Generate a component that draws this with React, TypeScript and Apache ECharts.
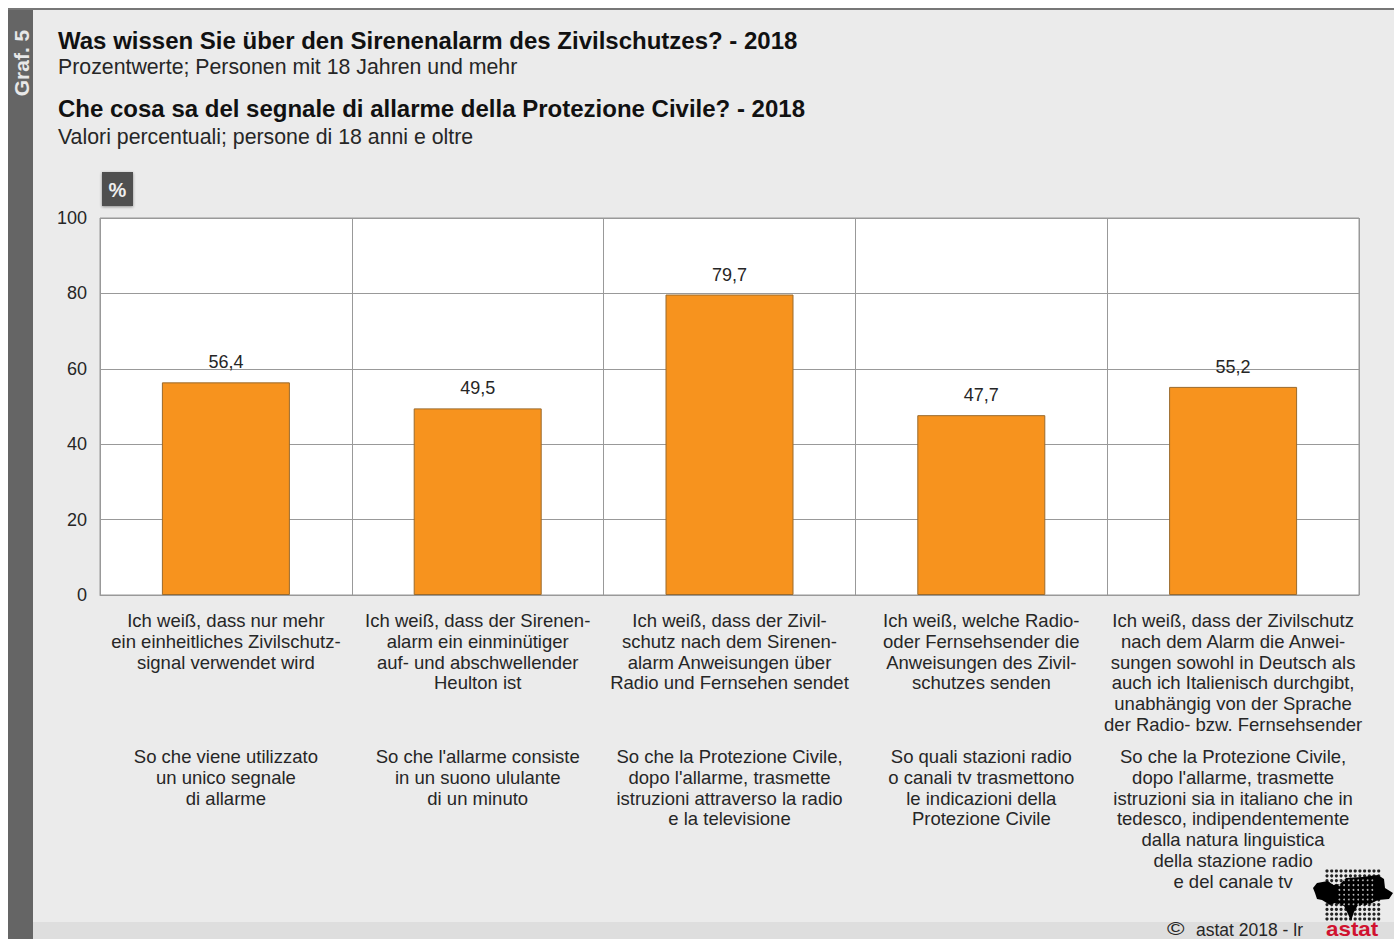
import React, { useEffect, useRef } from "react";
import * as echarts from "echarts";

const values = [56.4, 49.5, 79.7, 47.7, 55.2];
const germanLabels = [
  "Ich weiß, dass nur mehr\nein einheitliches Zivilschutz-\nsignal verwendet wird",
  "Ich weiß, dass der Sirenen-\nalarm ein einminütiger\nauf- und abschwellender\nHeulton ist",
  "Ich weiß, dass der Zivil-\nschutz nach dem Sirenen-\nalarm Anweisungen über\nRadio und Fernsehen sendet",
  "Ich weiß, welche Radio-\noder Fernsehsender die\nAnweisungen des Zivil-\nschutzes senden",
  "Ich weiß, dass der Zivilschutz\nnach dem Alarm die Anwei-\nsungen sowohl in Deutsch als\nauch ich Italienisch durchgibt,\nunabhängig von der Sprache\nder Radio- bzw. Fernsehsender",
];
const italianLabels = [
  "So che viene utilizzato\nun unico segnale\ndi allarme",
  "So che l'allarme consiste\nin un suono ululante\ndi un minuto",
  "So che la Protezione Civile,\ndopo l'allarme, trasmette\nistruzioni attraverso la radio\ne la televisione",
  "So quali stazioni radio\no canali tv trasmettono\nle indicazioni della\nProtezione Civile",
  "So che la Protezione Civile,\ndopo l'allarme, trasmette\nistruzioni sia in italiano che in\ntedesco, indipendentemente\ndalla natura linguistica\ndella stazione radio\ne del canale tv",
];
const yTicks = { min: 0, max: 100, interval: 20 };
const FONT = '"Liberation Sans", Arial, sans-serif';
const TXT = "#262626";

const blobPoints = [
  [1313, 888], [1317, 883], [1328, 881], [1333, 885], [1340, 884], [1346, 878], [1362, 877], [1378, 875],
  [1384, 879], [1385, 888], [1393, 893], [1389, 899], [1378, 900], [1368, 905], [1358, 905], [1354, 912],
  [1351, 921], [1348, 914], [1344, 906], [1335, 903], [1330, 905], [1322, 900], [1317, 899], [1315, 893],
];

function logoGraphics() {
  const out: any[] = [];
  for (let r = 0; r < 11; r++) {
    for (let c = 0; c < 12; c++) {
      out.push({
        type: "circle",
        z: 5,
        shape: { cx: 1327 + c * 4.7, cy: 871 + r * 4.8, r: 1.6 },
        style: { fill: "#222" },
        silent: true,
      });
    }
  }
  // light mesh through the centre of the black silhouette
  for (let r = 0; r < 6; r++) {
    for (let c = 0; c < 8; c++) {
      out.push({
        type: "circle",
        z: 7,
        shape: { cx: 1339.4 + c * 4.7, cy: 880.3 + r * 4.8, r: 0.9 },
        style: { fill: "#b5b5b5" },
        silent: true,
      });
    }
  }
  return out;
}

export default function App() {
  const ref = useRef<HTMLDivElement>(null);
  useEffect(() => {
    document.body.style.margin = "0";
    const chart = echarts.init(ref.current!, undefined, { renderer: "svg" });
    const t = (x: number, y: number, text: string, fontSize: number, fontWeight = "normal", fill = TXT, scaleX = 1) => ({
      type: "text",
      x,
      y,
      scaleX,
      style: { text, fontSize, fontWeight, fill, fontFamily: FONT, verticalAlign: "middle" },
      silent: true,
    });
    chart.setOption({
      animation: false,
      backgroundColor: "#ffffff",
      grid: { left: 100, top: 218, width: 1259, height: 377, show: true, backgroundColor: "#ffffff", borderColor: "#999999", borderWidth: 1 },
      graphic: [
        { type: "rect", z: -10, shape: { x: 8, y: 8, width: 1386, height: 931 }, style: { fill: "#ebebeb" }, silent: true },
        { type: "rect", z: -9, shape: { x: 8, y: 922, width: 1386, height: 17 }, style: { fill: "#dedede" }, silent: true },
        { type: "rect", z: -8, shape: { x: 8, y: 8, width: 25, height: 931 }, style: { fill: "#656565" }, silent: true },
        { type: "rect", z: -8, shape: { x: 8, y: 8, width: 1386, height: 2 }, style: { fill: "#777777" }, silent: true },
        { type: "text", x: 21, y: 63, rotation: Math.PI / 2, silent: true,
          style: { text: "Graf. 5", fontSize: 21, fontWeight: "bold", fill: "#e8e8e8", fontFamily: FONT, align: "center", verticalAlign: "middle" } },
        t(58, 40, "Was wissen Sie über den Sirenenalarm des Zivilschutzes? - 2018", 24, "bold", "#111111"),
        t(58, 67, "Prozentwerte; Personen mit 18 Jahren und mehr", 21.3),
        t(58, 108.5, "Che cosa sa del segnale di allarme della Protezione Civile? - 2018", 24, "bold", "#111111"),
        t(58, 137, "Valori percentuali; persone di 18 anni e oltre", 21.3),
        { type: "rect", shape: { x: 102, y: 172, width: 31, height: 34 }, style: { fill: "#4f4f4f", shadowBlur: 3, shadowColor: "rgba(0,0,0,0.4)", shadowOffsetY: 1 }, silent: true },
        { type: "text", x: 117.5, y: 190, silent: true, style: { text: "%", fontSize: 20, fontWeight: "bold", fill: "#eeeeee", fontFamily: FONT, align: "center", verticalAlign: "middle" } },
        ...logoGraphics(),
        { type: "polygon", z: 6, shape: { points: blobPoints }, style: { fill: "#000000" }, silent: true },
        t(1167, 929, "©", 19, "normal", TXT, 1.25),
        t(1196, 929.5, "astat 2018 - lr", 17.5),
        t(1326, 928.5, "astat", 20, "bold", "#d0122f", 1.12),
      ],
      xAxis: [
        {
          type: "category",
          data: germanLabels,
          axisTick: { show: false },
          axisLine: { lineStyle: { color: "#999999" } },
          splitLine: { show: true, lineStyle: { color: "#999999", width: 1 } },
          axisLabel: { interval: 0, fontFamily: FONT, fontSize: 18.5, lineHeight: 20.8, color: TXT, margin: 15, verticalAlign: "top", align: "center" },
        },
        {
          type: "category",
          position: "bottom",
          offset: 151,
          data: italianLabels,
          axisTick: { show: false },
          axisLine: { show: false },
          axisLabel: { interval: 0, fontFamily: FONT, fontSize: 18.5, lineHeight: 20.8, color: TXT, margin: 0, verticalAlign: "top", align: "center" },
        },
      ],
      yAxis: {
        type: "value",
        ...yTicks,
        axisLine: { show: false },
        axisTick: { show: false },
        splitLine: { lineStyle: { color: "#999999", width: 1 } },
        axisLabel: { fontFamily: FONT, fontSize: 18, color: TXT, margin: 13, padding: [4, 0, 0, 0] },
      },
      series: [
        {
          type: "bar",
          data: values,
          barWidth: 128,
          itemStyle: { color: "#f7931e", borderColor: "#9a6a2c", borderWidth: 1 },
          label: {
            show: true,
            position: "top",
            distance: 11,
            fontFamily: FONT,
            fontSize: 18,
            color: TXT,
            formatter: (p: any) => String(p.value).replace(".", ","),
          },
        },
      ],
    });
    return () => chart.dispose();
  }, []);
  return <div ref={ref} style={{ width: 1394, height: 939 }} />;
}
